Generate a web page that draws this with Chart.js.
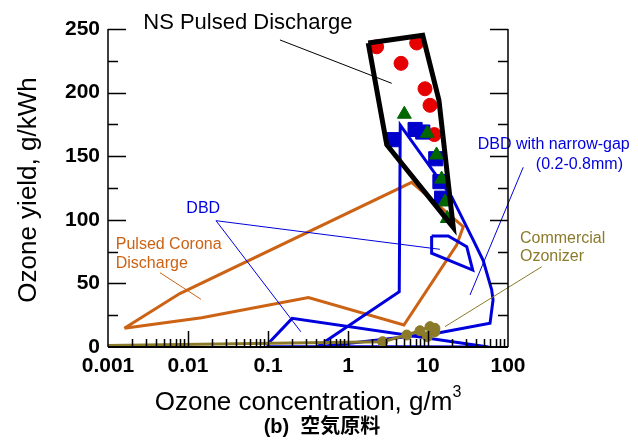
<!DOCTYPE html>
<html>
<head>
<meta charset="utf-8">
<script src="https://cdn.jsdelivr.net/npm/chart.js@4/dist/chart.umd.min.js"></script>
<style>
  html, body { margin: 0; padding: 0; background: #fff; }
</style>
</head>
<body>
<canvas id="chart" width="638" height="442"></canvas>
<script>
// axis ticks
const xTickValues = [0.001, 0.01, 0.1, 1, 10, 100];
const xTickLabels = ['0.001', '0.01', '0.1', '1', '10', '100'];
const yTickValues = [0, 50, 100, 150, 200, 250];

// NS pulsed discharge region + points
const nsPolyX = [1.79, 8.59, 13.7, 20.7, 3.05, 1.79];
const nsPolyY = [239, 245, 194, 94, 159, 239];
const nsRedX = [2.28, 7.22, 4.6, 9.17, 10.6, 12.0];
const nsRedY = [236, 239, 223, 203, 190, 167];
const nsGreenX = [5.06, 9.8, 12.8, 14.8, 16.3, 17.4];
const nsGreenY = [183, 168, 151, 132, 114, 101];
const nsBlueX = [3.68, 6.9, 8.6, 12.5, 14.1, 14.8];
const nsBlueY = [163, 171, 169, 148, 130, 117];

// pulsed corona region
const coronaX = [0.0016, 0.0079, 6.25, 27.6, 22.8, 5.0, 0.32, 0.0148, 0.0016];
const coronaY = [14.7, 42, 129.5, 94.6, 80.2, 17.3, 38.8, 23, 14.7];

// DBD regions
const dbdX = [0.1, 0.2, 57, 0.1, 0.1];
const dbdY = [2.5, 22.5, 0, 0.3, 2.5];
const dbdBoxX = [11.1, 17.9, 30.5, 36.2, 11.1, 11.1];
const dbdBoxY = [87.3, 87.3, 78.9, 60.5, 73.7, 87.3];
const narrowX = [0.41, 4.37, 4.5, 19.8, 36.8, 49, 62.5, 65, 59.6, 12.8, 0.41];
const narrowY = [0, 43.5, 174.5, 118, 84, 68, 45, 37, 18.6, 10.8, 0];

// commercial ozonizer
const ozLineX = [0.001, 2.71, 5.42, 7.94, 10.6, 12.2];
const ozLineY = [1.2, 4.2, 9.4, 12.8, 16, 14.7];
const ozPtX = [2.71, 5.42, 7.94, 10.6, 12.2, 12.2, 9.8];
const ozPtY = [4.2, 9.4, 12.8, 16, 14.7, 12, 8.1];

const FONT = "'Liberation Sans', Arial, sans-serif";
const BLUE = '#0000dd';
const ORANGE = '#cc6214';
const OLIVE = '#8a7a2a';

// label texts and pointer lines, in data units
const labels = [
  { text: 'NS Pulsed Discharge', x: 0.00276, y: 254.5, color: '#000', size: 22, align: 'left' },
  { text: 'DBD', x: 0.0155, y: 109, color: BLUE, size: 16, align: 'center' },
  { text: 'Pulsed Corona', x: 0.00125, y: 80.2, color: ORANGE, size: 16, align: 'left' },
  { text: 'Discharge', x: 0.00125, y: 65.8, color: ORANGE, size: 16, align: 'left' },
  { text: 'DBD with narrow-gap', x: 41.8, y: 158.8, color: BLUE, size: 16, align: 'left' },
  { text: '(0.2-0.8mm)', x: 2738, y: 143.1, color: BLUE, size: 16, align: 'right' },
  { text: 'Commercial', x: 141, y: 84.9, color: OLIVE, size: 16, align: 'left' },
  { text: 'Ozonizer', x: 141, y: 71, color: OLIVE, size: 16, align: 'left' }
];
const pointers = [
  { from: [0.141, 241.4], to: [3.52, 207.3], color: '#000' },
  { from: [0.0224, 99.3], to: [14.1, 76.8], color: BLUE },
  { from: [0.0224, 99.3], to: [0.257, 12], color: BLUE },
  { from: [0.00447, 58.4], to: [0.01454, 37.5], color: ORANGE },
  { from: [155, 141.3], to: [33.5, 40.9], color: BLUE },
  { from: [264, 63.1], to: [16.3, 16], color: OLIVE }
];

const pts = (xs, ys) => xs.map((x, i) => ({ x: x, y: ys[i] }));

function polygon(xs, ys, color, width, order) {
  return {
    data: pts(xs, ys), showLine: true, borderColor: color, borderWidth: width,
    pointRadius: 0, fill: false, tension: 0, borderJoinStyle: 'miter', order: order
  };
}
function markers(xs, ys, style, radius, color, order) {
  return {
    data: pts(xs, ys), showLine: false, pointStyle: style, pointRadius: radius,
    backgroundColor: color, borderColor: color, borderWidth: 1, order: order
  };
}

const decorations = {
  id: 'decorations',
  afterDatasetsDraw(chart) {
    const ctx = chart.ctx, sx = chart.scales.x, sy = chart.scales.y;
    ctx.save();
    ctx.lineWidth = 1;
    pointers.forEach(p => {
      ctx.strokeStyle = p.color;
      ctx.beginPath();
      ctx.moveTo(sx.getPixelForValue(p.from[0]), sy.getPixelForValue(p.from[1]));
      ctx.lineTo(sx.getPixelForValue(p.to[0]), sy.getPixelForValue(p.to[1]));
      ctx.stroke();
    });
    ctx.textBaseline = 'middle';
    labels.forEach(l => {
      ctx.font = l.size + 'px ' + FONT;
      ctx.fillStyle = l.color;
      ctx.textAlign = l.align;
      ctx.fillText(l.text, sx.getPixelForValue(l.x), sy.getPixelForValue(l.y));
    });
    ctx.restore();
  },
  afterDraw(chart) {
    const ctx = chart.ctx, sx = chart.scales.x, sy = chart.scales.y;
    const a = chart.chartArea;
    ctx.save();
    ctx.strokeStyle = '#000';
    // axis lines
    ctx.lineWidth = 1.5;
    ctx.beginPath();
    ctx.moveTo(a.left, a.top); ctx.lineTo(a.left, a.bottom);
    ctx.moveTo(a.right, a.top); ctx.lineTo(a.right, a.bottom);
    ctx.stroke();
    ctx.lineWidth = 2;
    ctx.beginPath();
    ctx.moveTo(a.left, a.bottom); ctx.lineTo(a.right, a.bottom);
    ctx.stroke();
    // x ticks, inside
    ctx.lineWidth = 1.5;
    ctx.beginPath();
    for (let e = -3; e < 2; e++) {
      for (let k = 1; k < 10; k++) {
        const v = k * Math.pow(10, e);
        if (v <= 0.001) continue;
        const px = Math.round(sx.getPixelForValue(v)) + 0.5;
        const len = k === 1 ? 16 : 8;
        ctx.moveTo(px, a.bottom); ctx.lineTo(px, a.bottom - len);
      }
    }
    // y ticks, both sides
    for (let v = 25; v <= 250; v += 25) {
      const py = Math.round(sy.getPixelForValue(v)) + 0.5;
      const len = v % 50 === 0 ? 18 : 10;
      ctx.moveTo(a.left, py); ctx.lineTo(a.left + len, py);
      ctx.moveTo(a.right, py); ctx.lineTo(a.right - len, py);
    }
    ctx.stroke();

    // axis titles
    ctx.fillStyle = '#000';
    ctx.font = '26px ' + FONT;
    ctx.textBaseline = 'alphabetic';
    const main = 'Ozone concentration, g/m';
    const w = ctx.measureText(main).width;
    ctx.font = '16px ' + FONT;
    const w3 = ctx.measureText('3').width;
    const x0 = (a.left + a.right) / 2 - (w + w3) / 2;
    ctx.font = '26px ' + FONT;
    ctx.textAlign = 'left';
    ctx.fillText(main, x0, 410);
    ctx.font = '16px ' + FONT;
    ctx.fillText('3', x0 + w, 397);

    ctx.save();
    ctx.translate(36, 190);
    ctx.rotate(-Math.PI / 2);
    ctx.font = '26px ' + FONT;
    ctx.textAlign = 'center';
    ctx.fillText('Ozone yield, g/kWh', 0, 0);
    ctx.restore();

    ctx.font = "bold 20px 'Liberation Sans', 'Noto Sans CJK JP', sans-serif";
    ctx.textAlign = 'center';
    ctx.textBaseline = 'middle';
    ctx.fillText('(b)  空気原料', 322, 427);
    ctx.restore();
  }
};

new Chart(document.getElementById('chart'), {
  type: 'scatter',
  data: {
    datasets: [
      polygon(nsPolyX, nsPolyY, '#000', 5, 0),
      markers(nsGreenX, nsGreenY, 'triangle', 8, '#006600', 1),
      markers(nsBlueX, nsBlueY, 'rect', 10, '#0000cc', 2),
      markers(nsRedX, nsRedY, 'circle', 7, '#e60000', 3),
      markers(ozPtX, ozPtY, 'circle', 5, OLIVE, 4),
      polygon(ozLineX, ozLineY, OLIVE, 3, 5),
      polygon(narrowX, narrowY, BLUE, 3, 6),
      polygon(dbdBoxX, dbdBoxY, BLUE, 3, 7),
      polygon(dbdX, dbdY, BLUE, 3, 8),
      polygon(coronaX, coronaY, ORANGE, 3, 9)
    ]
  },
  options: {
    responsive: false,
    animation: false,
    devicePixelRatio: 1,
    layout: { padding: { top: 29, right: 130, left: 0, bottom: 0 } },
    plugins: { legend: { display: false }, tooltip: { enabled: false } },
    scales: {
      x: {
        type: 'logarithmic', min: 0.001, max: 100, position: 'bottom',
        grid: { display: false, drawTicks: false }, border: { display: false },
        afterBuildTicks: s => { s.ticks = xTickValues.map(v => ({ value: v })); },
        afterFit: s => { s.height = 95; },
        ticks: {
          autoSkip: false, maxRotation: 0, padding: 7, color: '#000',
          font: { family: FONT, size: 21, weight: 'bold' },
          callback: (v, i) => xTickLabels[i]
        }
      },
      y: {
        type: 'linear', min: 0, max: 250,
        grid: { display: false, drawTicks: false }, border: { display: false },
        afterBuildTicks: s => { s.ticks = yTickValues.map(v => ({ value: v })); },
        afterFit: s => { s.width = 108; },
        ticks: {
          padding: 8, color: '#000',
          font: { family: FONT, size: 21, weight: 'bold' }
        }
      }
    }
  },
  plugins: [decorations]
});
</script>
</body>
</html>
